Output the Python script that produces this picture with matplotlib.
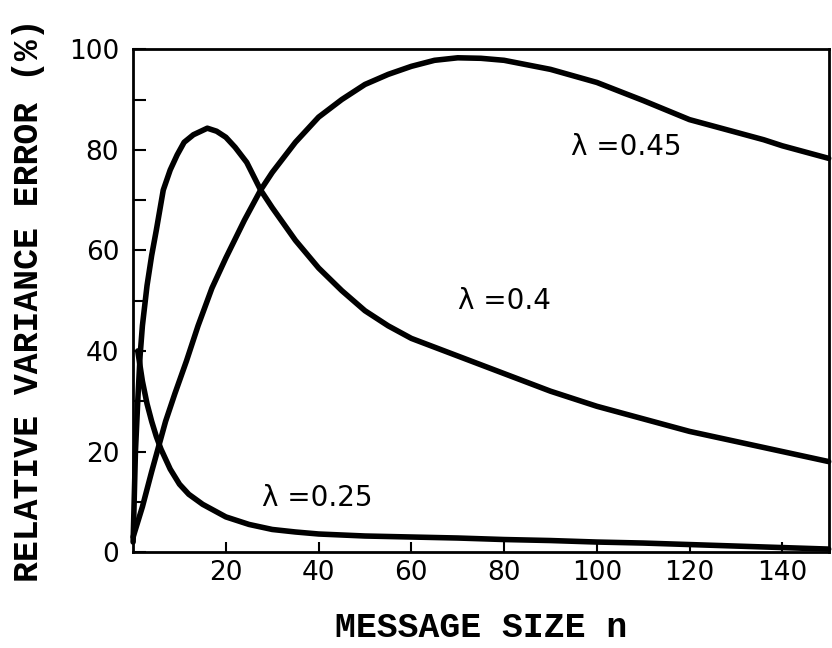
import numpy as np
import matplotlib.pyplot as plt
from matplotlib.ticker import MultipleLocator

# values
n_025 = [1, 2, 3, 4, 5, 6, 8, 10, 12, 15, 20, 25, 30, 35, 40, 50, 60, 70, 80, 90, 100, 110, 120, 130, 140, 150]
e_025 = [40, 34, 29.5, 26, 23, 20.5, 16.5, 13.5, 11.5, 9.5, 7, 5.5, 4.5, 4, 3.6, 3.2, 3, 2.8, 2.5, 2.3, 2, 1.8, 1.5, 1.2, 0.9, 0.6]

n_04 = [0, 0.5, 1, 1.5, 2, 3, 4, 5, 6.5, 8, 9.5, 11, 13, 16, 18, 20, 22, 24.5, 27.5, 30, 35, 40, 45, 50, 55, 60, 70, 80, 90, 100, 110, 120, 130, 140, 150]
e_04 = [2, 20, 30, 39, 45, 53, 59, 64, 72, 76, 79, 81.5, 83, 84.3, 83.7, 82.5, 80.5, 77.5, 72, 68.5, 62, 56.5, 52, 48, 45, 42.5, 39, 35.5, 32, 29, 26.5, 24, 22, 20, 18]

n_045 = [0, 2, 4, 5.5, 7, 9, 11.5, 14, 17, 20, 24, 27.5, 30, 35, 40, 45, 50, 55, 60, 65, 70, 75, 80, 90, 100, 110, 120, 130, 136, 140, 150]
e_045 = [3, 9, 16, 21, 26, 31.5, 38, 45, 52.5, 58.5, 66, 72, 75.5, 81.5, 86.5, 90, 93, 95, 96.6, 97.8, 98.3, 98.2, 97.8, 96, 93.4, 89.8, 86, 83.5, 82, 80.8, 78.3]

labels = ["λ =0.25", "λ =0.4", "λ =0.45"]
label_pos = [(27.8, 10.7), (70, 50), (94.5, 80.6)]

fig = plt.figure(figsize=(8.32, 6.48), dpi=100)
ax = fig.add_axes([0.160, 0.148, 0.836, 0.776])

for xs, ys in [(n_025, e_025), (n_04, e_04), (n_045, e_045)]:
    ax.plot(xs, ys, color='black', lw=4, solid_capstyle='round', clip_on=False)

for txt, (tx, ty) in zip(labels, label_pos):
    ax.text(tx, ty, txt, fontsize=20, ha='left', va='center', family='DejaVu Sans')

ax.set_xlim(0, 150)
ax.set_ylim(0, 100)
ax.set_xticks([20, 40, 60, 80, 100, 120, 140])
ax.set_yticks([0, 20, 40, 60, 80, 100])
ax.yaxis.set_minor_locator(MultipleLocator(10))

ax.tick_params(axis='x', direction='in', length=7, width=1.5, pad=6, labelsize=19)
ax.tick_params(axis='y', which='both', direction='in', length=9, width=1.5, pad=10, labelsize=19)
for s in ax.spines.values():
    s.set_linewidth(2)

# typewriter-like axis titles
ax.set_xlabel("MESSAGE SIZE n", family='Liberation Mono', fontweight='bold', fontsize=25, labelpad=18)
ax.set_ylabel("RELATIVE VARIANCE ERROR (%)", family='Liberation Mono', fontweight='bold', fontsize=25, labelpad=17)

fig.savefig("out.png", dpi=100)
